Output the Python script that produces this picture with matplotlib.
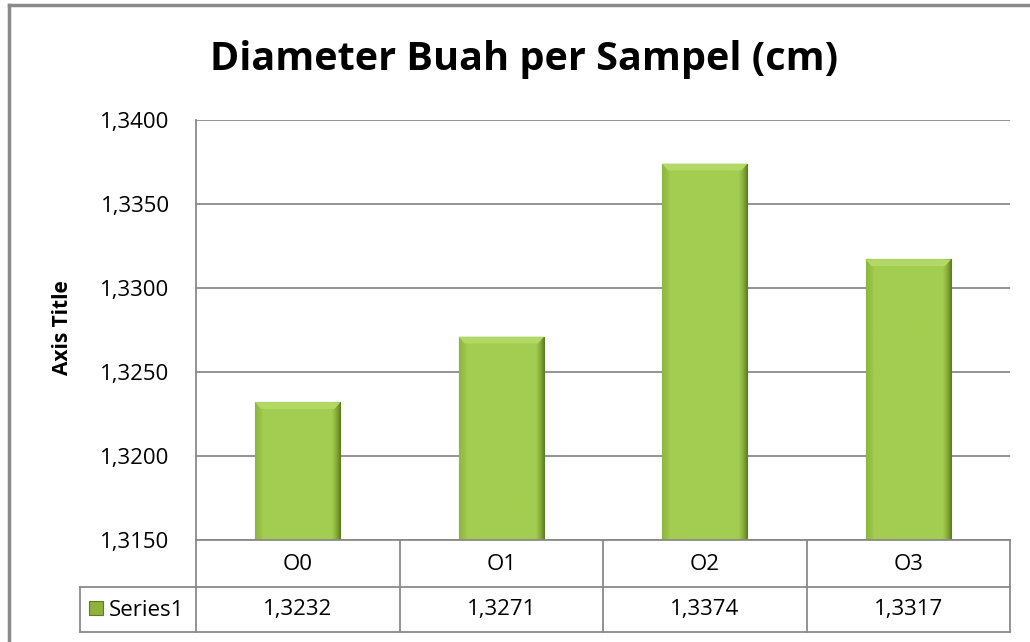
import numpy as np
import matplotlib.pyplot as plt
from matplotlib.patches import Rectangle, Polygon
from matplotlib.lines import Line2D
from matplotlib.ticker import FuncFormatter, MultipleLocator
from matplotlib.transforms import blended_transform_factory
from matplotlib.colors import LinearSegmentedColormap

# data
categories = ['O0', 'O1', 'O2', 'O3']
values = [1.3232, 1.3271, 1.3374, 1.3317]
series_name = 'Series1'
title = 'Diameter Buah per Sampel (cm)'
y_label = 'Axis Title'

plt.rcParams['font.family'] = ['Open Sans', 'DejaVu Sans']

W, H = 1030, 642
fig = plt.figure(figsize=(W / 100, H / 100), dpi=100)


def fx(x):
    return x / W


def fy(y):
    return 1 - y / H


def comma(v, pos=None):
    return f'{v:.4f}'.replace('.', ',')


grey = '#8a8a8a'

# outer chart border (top and left visible)
fig.add_artist(Line2D([fx(9), fx(1030)], [fy(5), fy(5)], color=grey, lw=2.5))
fig.add_artist(Line2D([fx(9), fx(9)], [fy(5), fy(642)], color=grey, lw=2.5))

# plot area
ax = fig.add_axes([fx(196), fy(540), fx(1010 - 196), (540 - 120) / H])
ymin, ymax = 1.315, 1.340
ax.yaxis.set_major_locator(MultipleLocator(0.005))
ax.yaxis.set_major_formatter(FuncFormatter(comma))
ax.set_xticks([])
ax.tick_params(axis='y', length=0, pad=19, labelsize=16)
ax.grid(axis='y', color=grey, lw=1.3)
ax.set_axisbelow(True)
for s in ['top', 'right', 'bottom']:
    ax.spines[s].set_visible(False)
ax.spines['left'].set_color(grey)
ax.spines['left'].set_linewidth(1.3)

x = np.arange(len(categories))
bars = ax.bar(x, values, width=0.42, color='#9cc64a', edgecolor='#6a8a28', lw=0.8, zorder=2)

# soft horizontal shading, darker toward the right edge
t = np.linspace(0, 1, 80)
grad = np.where(t < 0.08, 0.35 - t * 3, np.where(t > 0.9, (t - 0.9) * 10, 0.0))
grad = np.vstack([grad, grad])
cmap = LinearSegmentedColormap.from_list('g', ['#a3cd50', '#86ad38', '#5f7d22'])
dy = (ymax - ymin) * 0.016
for b in bars:
    x0, w, h = b.get_x(), b.get_width(), b.get_height()
    im = ax.imshow(grad, cmap=cmap, aspect='auto', zorder=3,
                   extent=(x0, x0 + w, ymin, h), vmin=0, vmax=1)
    im.set_clip_path(b)
    # bevel at the top
    ax.add_patch(Polygon([(x0, h), (x0 + w, h), (x0 + w * 0.93, h - dy), (x0 + w * 0.07, h - dy)],
                         closed=True, facecolor='#b2d866', edgecolor='none', zorder=4))
ax.set_xlim(-0.5, len(categories) - 0.5)
ax.set_ylim(ymin, ymax)

ax.set_title(title, fontsize=28.5, fontweight='bold', x=(524 - 196) / (1010 - 196), y=1.0, pad=36)
fig.text(fx(62), fy(328), y_label, rotation=90, ha='center', va='center', fontsize=15, fontweight='bold')

# data table
tr = blended_transform_factory(ax.transData, fig.transFigure)
lw = 1.3
fig.add_artist(Line2D([fx(196), fx(1010)], [fy(540), fy(540)], color=grey, lw=lw))
for yy in (587, 632):
    fig.add_artist(Line2D([fx(80), fx(1010)], [fy(yy), fy(yy)], color=grey, lw=lw))
fig.add_artist(Line2D([fx(80), fx(80)], [fy(587), fy(632)], color=grey, lw=lw))
fig.add_artist(Line2D([fx(196), fx(196)], [fy(540), fy(632)], color=grey, lw=lw))
for i in range(len(categories)):
    xb = i + 0.5
    ax.add_artist(Line2D([xb, xb], [fy(540), fy(632)], color=grey, lw=lw, transform=tr, clip_on=False))
    ax.text(i, fy(564), categories[i], transform=tr, ha='center', va='center', fontsize=16)
    ax.text(i, fy(610), comma(values[i]), transform=tr, ha='center', va='center', fontsize=16)

fig.add_artist(Rectangle((fx(89), fy(615)), fx(14), 14 / H, facecolor='#8db33a', edgecolor='#5e7a22', lw=0.8))
fig.text(fx(109), fy(610), series_name, ha='left', va='center', fontsize=16)

plt.savefig('out.png', dpi=100)
